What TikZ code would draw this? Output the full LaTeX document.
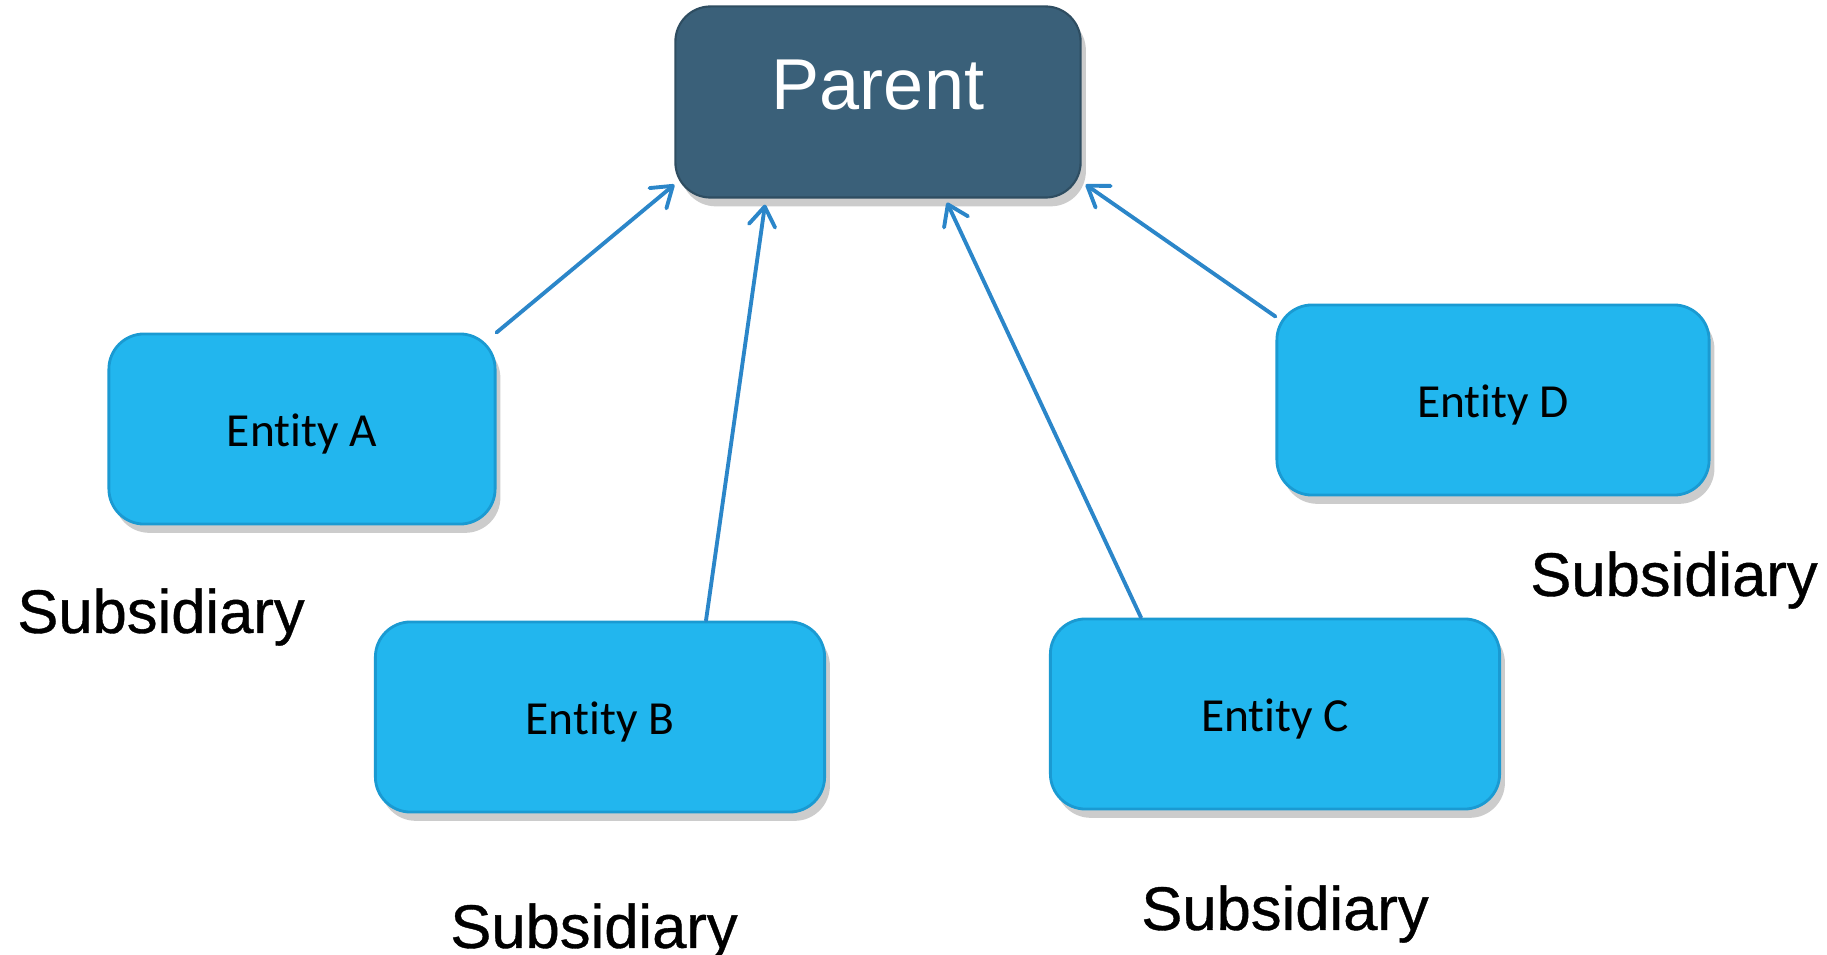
\documentclass[tikz,border=0pt]{standalone}
\usepackage{fontspec}
\setmainfont{Liberation Sans}
\newfontfamily\entityfont[Ligatures=NoCommon]{Carlito}
\newfontfamily\labelfont[FakeBold=0.6]{Liberation Sans}
\usetikzlibrary{arrows.meta, shadows}

\definecolor{parentblue}{HTML}{3A6079}
\definecolor{entityblue}{HTML}{22B6EE}
\definecolor{entityedge}{HTML}{1A9AD2}
\definecolor{linkblue}{HTML}{2B86C9}

\tikzset{
	parentbox/.style={rectangle, rounded corners=10pt, fill=parentblue, draw=parentblue!80!black, line width=0.6pt,
		minimum width=4.05cm, minimum height=1.91cm, text=white, font=\fontsize{20.5}{24}\selectfont,
		drop shadow={shadow xshift=1.5pt, shadow yshift=-2.5pt, opacity=0.4}},
	entitybox/.style={rectangle, rounded corners=10pt, fill=entityblue, draw=entityedge, line width=0.8pt,
		minimum height=1.9cm, text height=12.7pt, text depth=2.7pt, font=\entityfont\fontsize{13.5}{16}\selectfont,
		drop shadow={shadow xshift=1.5pt, shadow yshift=-2.5pt, opacity=0.4}},
	sublabel/.style={font=\labelfont\fontsize{17.5}{21}\selectfont},
	link/.style={linkblue, line width=1.1pt, line cap=round, -{Straight Barb[length=5.5pt,width=7.5pt,round]}}
}

\begin{document}
\begin{tikzpicture}[x=0.01cm, y=-0.01cm]
	\useasboundingbox (0,0) rectangle (1827,955);
	%Parent
		\node[parentbox] (parent) at (878,102) {\raisebox{10pt}{Parent}};
	%Entities
		\node[entitybox, minimum width=3.86cm] (ea) at (302,429) {Entity A};
		\node[entitybox, minimum width=4.49cm] (eb) at (600,717) {Entity B};
		\node[entitybox, minimum width=4.49cm] (ec) at (1275,714) {Entity C};
		\node[entitybox, minimum width=4.32cm] (ed) at (1493,400) {Entity D};
	%Subsidiary labels
		\node[sublabel] (suba) at (161,617) {Subsidiary};
		\node[sublabel] (subb) at (594,932) {Subsidiary};
		\node[sublabel] (subc) at (1285,914) {Subsidiary};
		\node[sublabel] (subd) at (1674,580) {Subsidiary};
	%Entity->Parent
		\draw[link] (ea.north east) -- ([shift={(0,-14)}]parent.south west);
		\draw[link] ([shift={(106,0)}]eb.north) -- ([shift={(-113,6)}]parent.south);
		\draw[link] ([shift={(-134,0)}]ec.north) -- ([shift={(69,4)}]parent.south);
		\draw[link] ([shift={(0,13)}]ed.north west) -- ([shift={(4,-14)}]parent.south east);
\end{tikzpicture}
\end{document}
